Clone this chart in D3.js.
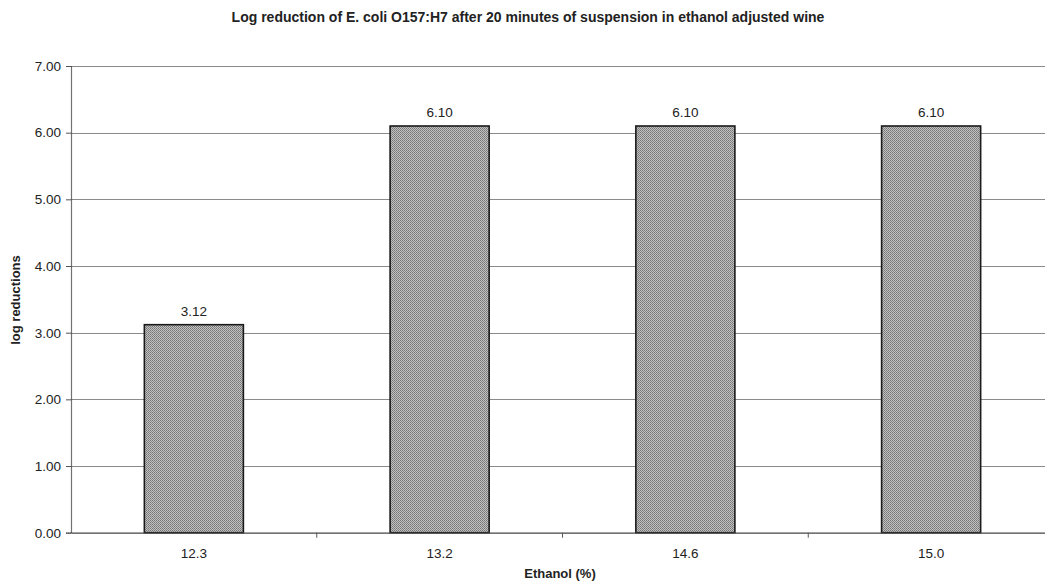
<!DOCTYPE html>
<html>
<head>
<meta charset="utf-8">
<script src="https://cdn.jsdelivr.net/npm/d3@7"></script>
<style>
  html, body { margin: 0; padding: 0; background: #fff; }
  svg { display: block; }
  text { font-family: "Liberation Sans", Arial, sans-serif; fill: #222; }
</style>
</head>
<body>
<svg id="chart" width="1045" height="585"></svg>
<script>
// Ethanol levels and log reductions
const categories = ["12.3", "13.2", "14.6", "15.0"];
const logReductions = [3.12, 6.10, 6.10, 6.10];
const yTicks = [0, 1, 2, 3, 4, 5, 6, 7];

const svg = d3.select("#chart");
const margin = { left: 71, top: 66, bottom: 52 };
const plotRight = 1054;
const H = 585;

const x = d3.scaleBand()
  .domain(categories)
  .range([margin.left, plotRight])
  .paddingInner(0.597)
  .paddingOuter(0.2985);

const y = d3.scaleLinear()
  .domain([0, 7])
  .range([H - margin.bottom - 0.3, margin.top]);

// dithered grey fill
const defs = svg.append("defs");
const pat = defs.append("pattern")
  .attr("id", "dither")
  .attr("width", 2).attr("height", 2)
  .attr("patternUnits", "userSpaceOnUse");
pat.append("rect").attr("width", 2).attr("height", 2).attr("fill", "#c0c0c0");
pat.append("rect").attr("width", 1).attr("height", 1).attr("fill", "#767676");
pat.append("rect").attr("x", 1).attr("y", 1).attr("width", 1).attr("height", 1).attr("fill", "#868686");

// horizontal gridlines
svg.append("g")
  .selectAll("line")
  .data(yTicks.filter(d => d > 0))
  .join("line")
  .attr("x1", margin.left).attr("x2", plotRight)
  .attr("y1", d => Math.round(y(d)) + 0.5).attr("y2", d => Math.round(y(d)) + 0.5)
  .attr("stroke", "#8a8a8a")
  .attr("stroke-width", 1);

// y axis
const yAxis = d3.axisLeft(y)
  .tickValues(yTicks)
  .tickFormat(d3.format(".2f"))
  .tickSize(5)
  .tickPadding(5);
const gy = svg.append("g")
  .attr("transform", `translate(${margin.left},0)`)
  .call(yAxis);
gy.select(".domain").attr("stroke", "#444").attr("stroke-width", 1.2).attr("stroke-dasharray", "1.5,0.5");
gy.selectAll(".tick line").attr("stroke", "#555");
gy.selectAll(".tick text")
  .style("font-size", "13.5px")
  .attr("fill", "#222");

// bars
svg.append("g")
  .selectAll("rect")
  .data(categories.map((c, i) => ({ c, v: logReductions[i] })))
  .join("rect")
  .attr("x", d => x(d.c))
  .attr("width", x.bandwidth())
  .attr("y", d => y(d.v))
  .attr("height", d => y(0) - y(d.v))
  .attr("fill", "url(#dither)")
  .attr("stroke", "#1a1a1a")
  .attr("stroke-width", 1.6);

// x axis
const xAxis = d3.axisBottom(x).tickSize(0).tickPadding(16);
const gx = svg.append("g")
  .attr("transform", `translate(0,${y(0)})`)
  .call(xAxis);
gx.select(".domain").attr("stroke", "#444").attr("stroke-width", 1.2);
gx.selectAll(".tick text").style("font-size", "13.5px").attr("fill", "#222");

// category separators on the x axis
const step = x.step();
svg.append("g")
  .selectAll("line")
  .data(categories.slice(1))
  .join("line")
  .attr("x1", d => x(d) - (step - x.bandwidth()) / 2)
  .attr("x2", d => x(d) - (step - x.bandwidth()) / 2)
  .attr("y1", y(0)).attr("y2", y(0) + 5)
  .attr("stroke", "#555");

// value labels
svg.append("g")
  .selectAll("text")
  .data(categories.map((c, i) => ({ c, v: logReductions[i] })))
  .join("text")
  .attr("x", d => x(d.c) + x.bandwidth() / 2)
  .attr("y", d => y(d.v) - 9)
  .attr("text-anchor", "middle")
  .style("font-size", "13.5px")
  .text(d => d3.format(".2f")(d.v));

// title
svg.append("text")
  .attr("x", 528).attr("y", 22)
  .attr("text-anchor", "middle")
  .style("font-size", "14px")
  .style("font-weight", "bold")
  .text("Log reduction of E. coli O157:H7 after 20 minutes of suspension in ethanol adjusted wine");

// axis titles
svg.append("text")
  .attr("x", 560).attr("y", 578)
  .attr("text-anchor", "middle")
  .style("font-size", "13px")
  .style("font-weight", "bold")
  .text("Ethanol (%)");

svg.append("text")
  .attr("transform", "translate(20,300) rotate(-90)")
  .attr("text-anchor", "middle")
  .style("font-size", "13px")
  .style("font-weight", "bold")
  .text("log reductions");
</script>
</body>
</html>
